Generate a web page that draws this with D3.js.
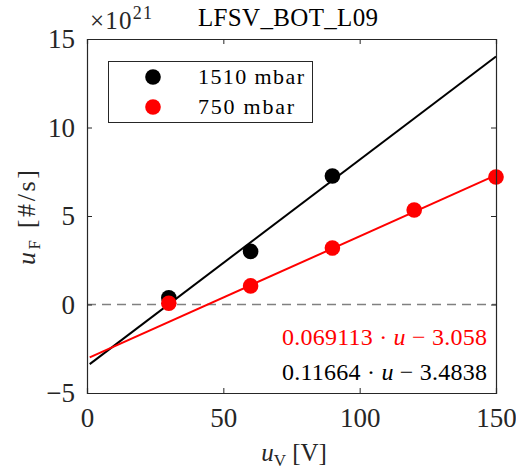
<!DOCTYPE html>
<html>
<head>
<meta charset="utf-8">
<script src="https://cdn.jsdelivr.net/npm/d3@7"></script>
<style>
  html, body { margin: 0; padding: 0; background: #fff; }
  svg { display: block; font-family: "Liberation Serif", "DejaVu Serif", serif; }
</style>
</head>
<body>
<svg id="chart" width="516" height="471"></svg>
<script>
// Measured voltages [V] and particle fluxes [×10^21 #/s]
const seriesNames = ["1510 mbar", "750 mbar"];
const seriesColors = ["#000000", "#ff0000"];
const voltsHigh = [30, 60, 90];
const fluxHigh = [0.38, 3.0, 7.26];
const voltsLow = [30, 60, 90, 120, 150];
const fluxLow = [0.07, 1.05, 3.19, 5.34, 7.2];

// Linear fits: slope, intercept, and fitted range of u
const fitSlopes = [0.11664, 0.069113];
const fitIntercepts = [-3.4838, -3.058];
const fitLabels = ["0.11664", "0.069113"];
const fitInterceptLabels = ["3.4838", "3.058"];
const fitRange = [1, 150];

const xTicks = [0, 50, 100, 150];
const yTicks = [-5, 0, 5, 10, 15];

const svg = d3.select("#chart");
const plotLeft = 87, plotRight = 496, plotTop = 39, plotBottom = 393;

const x = d3.scaleLinear().domain([0, 150]).range([plotLeft, plotRight]);
const y = d3.scaleLinear().domain([-5, 15]).range([plotBottom, plotTop]);

const axisColor = "#262626";
const serif = "'Liberation Serif', 'DejaVu Serif', serif";

// zero reference line
svg.append("line")
  .attr("x1", x(0)).attr("x2", x(150))
  .attr("y1", y(0)).attr("y2", y(0))
  .attr("stroke", "#808080").attr("stroke-width", 1.5)
  .attr("stroke-dasharray", "9,6");

// fit lines
[0, 1].forEach(i => {
  const line = d3.line().x(d => x(d)).y(d => y(fitSlopes[i] * d + fitIntercepts[i]));
  svg.append("path")
    .attr("d", line(fitRange))
    .attr("fill", "none")
    .attr("stroke", seriesColors[i])
    .attr("stroke-width", 2);
});

// data markers
const datasets = [
  voltsHigh.map((v, j) => [v, fluxHigh[j]]),
  voltsLow.map((v, j) => [v, fluxLow[j]])
];
datasets.forEach((pts, i) => {
  svg.append("g").selectAll("circle").data(pts).enter().append("circle")
    .attr("cx", d => x(d[0])).attr("cy", d => y(d[1]))
    .attr("r", 7.8)
    .attr("fill", seriesColors[i]);
});

// axes (box with inward ticks)
const tickLen = 5;
const axB = svg.append("g").attr("transform", `translate(0,${plotBottom})`)
  .call(d3.axisBottom(x).tickValues(xTicks).tickSize(-tickLen).tickPadding(13).tickFormat(d3.format("d")));
const axT = svg.append("g").attr("transform", `translate(0,${plotTop})`)
  .call(d3.axisTop(x).tickValues(xTicks).tickSize(-tickLen).tickFormat(""));
const axL = svg.append("g").attr("transform", `translate(${plotLeft},0)`)
  .call(d3.axisLeft(y).tickValues(yTicks).tickSize(-tickLen).tickPadding(12).tickFormat(d3.format("d")));
const axR = svg.append("g").attr("transform", `translate(${plotRight},0)`)
  .call(d3.axisRight(y).tickValues(yTicks).tickSize(-tickLen).tickFormat(""));

[axB, axT, axL, axR].forEach(ax => {
  ax.attr("font-family", serif);
  ax.selectAll(".domain").attr("stroke", axisColor).attr("stroke-width", 1.2);
  ax.selectAll(".tick line").attr("stroke", axisColor).attr("stroke-width", 1);
  ax.selectAll(".tick text")
    .attr("fill", "#262626")
    .style("font-family", serif)
    .style("font-size", "27px");
});
axB.selectAll(".tick text").attr("dy", "0.78em");
axL.selectAll(".tick text").attr("dy", "0.33em");

// exponent label
const expo = svg.append("text")
  .attr("x", 90).attr("y", 29)
  .attr("font-size", 25).attr("fill", "#262626")
  .attr("textLength", 62).attr("lengthAdjust", "spacing");
expo.append("tspan").text("×10");
expo.append("tspan").attr("dy", -10).attr("font-size", 18).text("21");

// title
svg.append("text")
  .attr("x", 198).attr("y", 26)
  .attr("font-size", 25).attr("fill", "#000")
  .attr("textLength", 180).attr("lengthAdjust", "spacing")
  .text("LFSV_BOT_L09");

// x label
const xl = svg.append("text")
  .attr("x", 294).attr("y", 461)
  .attr("text-anchor", "middle")
  .attr("font-size", 25).attr("fill", "#262626");
xl.append("tspan").attr("font-style", "italic").text("u");
xl.append("tspan").attr("font-size", 17).attr("dy", 5).text("V");
xl.append("tspan").attr("dy", -5).text(" [V]");

// y label
const yl = svg.append("text")
  .attr("transform", `translate(35,265) rotate(-90)`)
  .attr("font-size", 26).attr("fill", "#262626")
  .attr("textLength", 95).attr("lengthAdjust", "spacing");
yl.append("tspan").attr("font-style", "italic").text("u");
yl.append("tspan").attr("font-size", 17).attr("dy", 5).text("F");
yl.append("tspan").attr("dy", -5).text(" [#/s]");

// fit equations
const eqRows = [
  { i: 1, yPos: 345 },
  { i: 0, yPos: 380 }
];
eqRows.forEach(r => {
  const t = svg.append("text")
    .attr("x", 282).attr("y", r.yPos)
    .attr("font-size", 24)
    .attr("fill", seriesColors[r.i])
    .attr("textLength", 205).attr("lengthAdjust", "spacing");
  t.append("tspan").text(fitLabels[r.i] + " · ");
  t.append("tspan").attr("font-style", "italic").text("u");
  t.append("tspan").text(" − " + fitInterceptLabels[r.i]);
});

// legend
const legendWidths = [106, 96];
const lg = svg.append("g");
lg.append("rect")
  .attr("x", 108.5).attr("y", 61.5)
  .attr("width", 204).attr("height", 61)
  .attr("fill", "#fff").attr("stroke", "#262626").attr("stroke-width", 1);
seriesNames.forEach((name, i) => {
  const cy = 77 + i * 30;
  lg.append("circle").attr("cx", 153).attr("cy", cy).attr("r", 7.8).attr("fill", seriesColors[i]);
  lg.append("text").attr("x", 198).attr("y", cy + 7)
    .attr("font-size", 22).attr("fill", "#000")
    .attr("textLength", legendWidths[i]).attr("lengthAdjust", "spacing")
    .text(name);
});
</script>
</body>
</html>
